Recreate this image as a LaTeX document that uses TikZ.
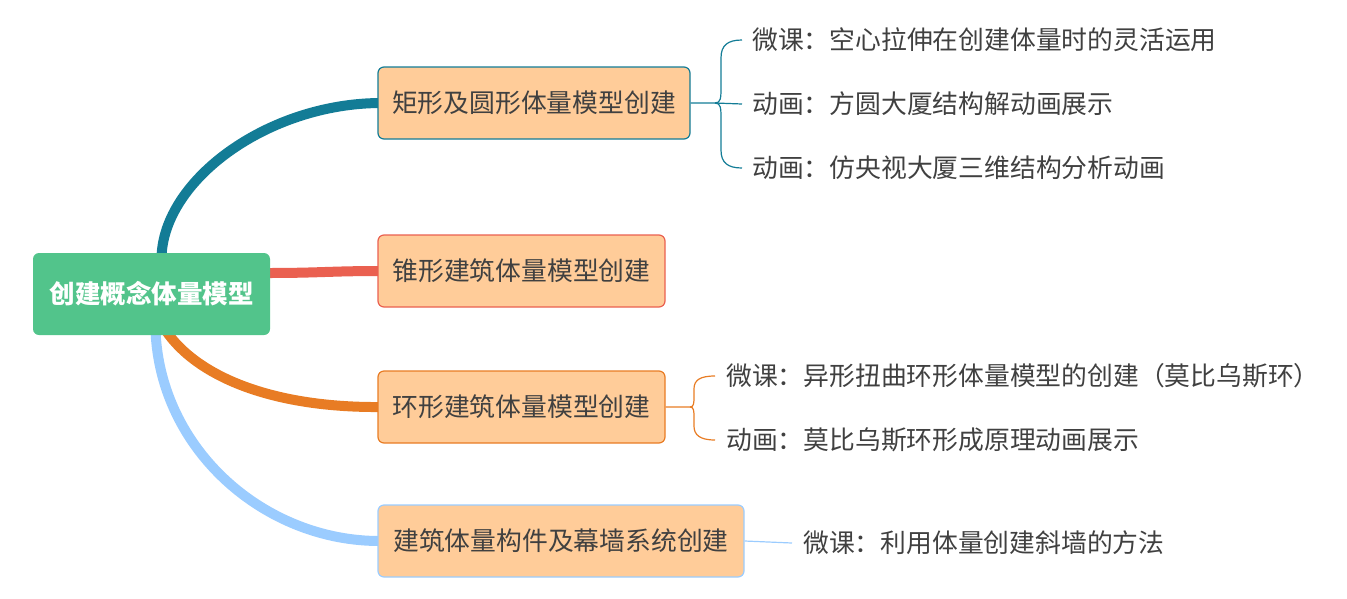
\documentclass[tikz,border=0pt]{standalone}
\usepackage{fontspec}
\setmainfont{Noto Sans CJK SC}
\usetikzlibrary{backgrounds}
\definecolor{rootgreen}{RGB}{82,196,139}
\definecolor{peach}{RGB}{255,204,153}
\definecolor{tealc}{RGB}{19,124,150}
\definecolor{redc}{RGB}{234,96,80}
\definecolor{orangec}{RGB}{232,124,36}
\definecolor{bluec}{RGB}{155,204,255}
\definecolor{txt}{RGB}{64,64,64}

\begin{document}
\begin{tikzpicture}[x=1pt, y=-1pt,
    rootbox/.style={fill=rootgreen, rounded corners=6pt, text=white, font=\fontsize{25.5}{30}\selectfont\bfseries,
        minimum width=237pt, minimum height=82pt, inner sep=0pt},
    topic/.style={fill=peach, draw=#1, line width=1.2pt, rounded corners=6pt, text=txt,
        font=\fontsize{25.8}{30}\selectfont, minimum height=72pt, inner sep=0pt},
    leaf/.style={anchor=west, inner sep=0pt, text=txt, font=\fontsize{25.8}{30}\selectfont},
    branch/.style={draw=#1, line width=10pt},
    brace/.style={draw=#1, line width=1.2pt}]
    \useasboundingbox (0,0) rectangle (1347,598);

    \node[rootbox] (root) at (151.5,294) {创建概念体量模型};
    \node[topic=tealc, minimum width=312pt] (b1) at (534,103) {矩形及圆形体量模型创建};
    \node[topic=redc, minimum width=287pt] (b2) at (521.5,271) {锥形建筑体量模型创建};
    \node[topic=orangec, minimum width=287pt] (b3) at (521.5,407) {环形建筑体量模型创建};
    \node[topic=bluec, minimum width=366pt] (b4) at (561,541) {建筑体量构件及幕墙系统创建};

    \node[leaf] (l11) at (752,40) {微课：空心拉伸在创建体量时的灵活运用};
    \node[leaf] (l12) at (752,104) {动画：方圆大厦结构解动画展示};
    \node[leaf] (l13) at (752,168) {动画：仿央视大厦三维结构分析动画};
    \node[leaf] (l31) at (726,376) {微课：异形扭曲环形体量模型的创建（莫比乌斯环）};
    \node[leaf] (l32) at (726,440) {动画：莫比乌斯环形成原理动画展示};
    \node[leaf] (l41) at (803,543) {微课：利用体量创建斜墙的方法};

    \begin{scope}[on background layer]
    \draw[branch=tealc] ([xshift=10pt,yshift=-5pt]root.north) .. controls (163,180) and (268,103) .. ([xshift=4pt]b1.west);
    \draw[branch=redc] ([xshift=-3pt,yshift=21pt]root.east) .. controls (320,273) and (330,271) .. ([xshift=4pt]b2.west);
    \draw[branch=orangec] ([xshift=14pt,yshift=5pt]root.south) .. controls (198,378) and (275,408) .. ([xshift=4pt]b3.west);
    \draw[branch=bluec] ([xshift=4pt,yshift=5pt]root.south) .. controls (160,450) and (265,542) .. ([xshift=4pt]b4.west);
    \end{scope}

    \draw[brace=tealc] (b1.east) -- (715,103) .. controls (721,103) and (721,98) .. (721,86) -- (721,58)
        .. controls (721,45) and (728,40) .. ([xshift=-10pt]l11.west);
    \draw[brace=tealc] (715,103) .. controls (721,103) and (721,108) .. (721,120) -- (721,150)
        .. controls (721,163) and (728,168) .. ([xshift=-10pt]l13.west);
    \draw[brace=tealc] (715,103) -- ([xshift=-10pt]l12.west);

    \draw[brace=orangec] (b3.east) -- (690,407) .. controls (694,407) and (694,403) .. (694,396) -- (694,389)
        .. controls (694,380) and (700,376) .. ([xshift=-11pt]l31.west);
    \draw[brace=orangec] (690,407) .. controls (694,407) and (694,411) .. (694,418) -- (694,426)
        .. controls (694,435) and (700,440) .. ([xshift=-11pt]l32.west);

    \draw[brace=bluec] (b4.east) -- ([xshift=-11pt]l41.west);
\end{tikzpicture}
\end{document}
